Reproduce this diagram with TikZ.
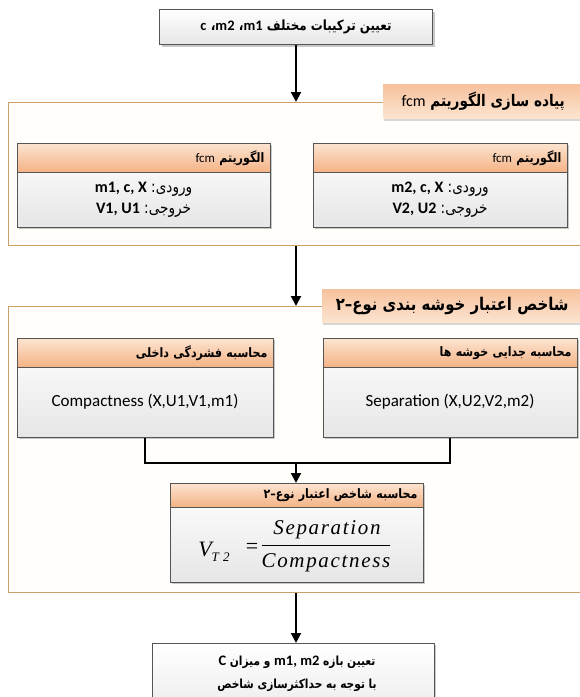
\documentclass[tikz,border=0pt]{standalone}
\usepackage{fontspec}
\usetikzlibrary{arrows.meta,shadows}
\TeXXeTstate=1
\newfontfamily\fafont[Script=Arabic,FakeStretch=0.85]{DejaVu Sans}
\newfontfamily\latf{Carlito}
\newfontfamily\tmsi[LetterSpace=8]{Liberation Serif}
\newcommand\lt[1]{\beginL{\latf\bfseries #1}\endL}
\newcommand\ltr[1]{\beginL{\latf\mdseries #1}\endL}
\newcommand\sep{\kern0pt}
\definecolor{bord}{RGB}{85,85,85}
\definecolor{bodybot}{RGB}{230,230,230}
\definecolor{hdrtop}{RGB}{252,228,208}
\definecolor{hdrbot}{RGB}{244,178,132}
\definecolor{contline}{RGB}{205,160,105}
\definecolor{contfill}{RGB}{255,254,251}
\begin{document}
\begin{tikzpicture}[x=1pt,y=-1pt,
  shd/.style={drop shadow={shadow xshift=2pt,shadow yshift=-2pt,opacity=0.3,fill=black!70}},
  plainbox/.style={draw=bord,line width=0.8pt,top color=white,bottom color=bodybot,shd,inner sep=0pt},
  bodybox/.style={plainbox,anchor=north west},
  hdr/.style={draw=bord,line width=0.8pt,top color=hdrtop,bottom color=hdrbot,anchor=north west,
     inner xsep=6pt,inner ysep=0pt,align=right,font=\fafont\bfseries\fontsize{13}{15}\selectfont},
  cont/.style={draw=contline,line width=1.3pt,fill=contfill,anchor=north west,inner sep=0pt},
  titlebox/.style={top color=hdrbot!80,bottom color=hdrtop,anchor=north west,inner sep=0pt,
     drop shadow={shadow xshift=1pt,shadow yshift=-3pt,opacity=0.25,fill=black!60}},
  txt/.style={align=center,inner sep=0pt},
  arr/.style={line width=2pt,-{Triangle[length=10pt,width=10pt]}},
  conn/.style={line width=2pt}]
\path[use as bounding box,clip] (0,0) rectangle (580,697);
\fill[white] (0,0) rectangle (580,697);

% top box
\node[plainbox,minimum width=273pt,minimum height=35pt,font=\fafont\bfseries\fontsize{14}{17}\selectfont] (top) at (296,27)
  {\beginR تعیین ترکیبات مختلف {\fontsize{14.5}{17}\selectfont\lt{m1}\sep،\sep\ \lt{m2}\sep،\sep\ \lt{c}}\endR};

% container 1
\node[cont,minimum width=600pt,minimum height=143pt] (c1) at (8,102) {};
\node[titlebox,minimum width=200pt,minimum height=34pt,font=\fafont\bfseries\fontsize{16}{19}\selectfont] (t1) at (383,84)
  {\beginR پیاده سازی الگوریتم {\fontsize{16}{18}\selectfont\ltr{fcm}}\endR};

\node[bodybox,minimum width=253pt,minimum height=84pt] (L1) at (17,143) {};
\node[hdr,text width=241pt,minimum height=29pt] (L1h) at (17,143)
  {\beginR الگوریتم {\fontsize{13}{15}\selectfont\ltr{fcm}}\endR};
\node[txt,font=\fafont\fontsize{16}{21}\selectfont] (L1t) at (143.5,200)
  {\beginR ورودی\sep:\sep\ \lt{m1, c, X}\endR\\ \beginR خروجی\sep:\sep\ \lt{V1, U1}\endR};

\node[bodybox,minimum width=254pt,minimum height=84pt] (R1) at (313,143) {};
\node[hdr,text width=242pt,minimum height=29pt] (R1h) at (313,143)
  {\beginR الگوریتم {\fontsize{13}{15}\selectfont\ltr{fcm}}\endR};
\node[txt,font=\fafont\fontsize{16}{21}\selectfont] (R1t) at (440,200)
  {\beginR ورودی\sep:\sep\ \lt{m2, c, X}\endR\\ \beginR خروجی\sep:\sep\ \lt{V2, U2}\endR};

% container 2
\node[cont,minimum width=600pt,minimum height=286pt] (c2) at (8,306) {};
\node[titlebox,minimum width=260pt,minimum height=33pt,font=\fafont\bfseries\fontsize{17.5}{20}\selectfont] (t2) at (322,289)
  {\beginR شاخص اعتبار خوشه بندی نوع\sep–\sep۲\endR};

\node[bodybox,minimum width=256pt,minimum height=99pt] (L2) at (17,338) {};
\node[hdr,text width=244pt,minimum height=29pt] (L2h) at (17,338)
  {\beginR محاسبه فشردگی داخلی\endR};
\node[txt,font=\latf\fontsize{17}{20}\selectfont] (L2t) at (145,402) {Compactness (X,U1,V1,m1)};

\node[bodybox,minimum width=254pt,minimum height=99pt] (R2) at (323,338) {};
\node[hdr,text width=242pt,minimum height=29pt] (R2h) at (323,338)
  {\beginR محاسبه جدایی خوشه ها\endR};
\node[txt,font=\latf\fontsize{17}{20}\selectfont] (R2t) at (450,402) {Separation (X,U2,V2,m2)};

% formula box
\node[bodybox,minimum width=253pt,minimum height=99pt] (F) at (170,483) {};
\node[hdr,text width=241pt,minimum height=24pt] (Fh) at (170,483)
  {\beginR محاسبه شاخص اعتبار نوع\sep–\sep۲\endR};
\node[txt,font=\tmsi\itshape\fontsize{22}{24}\selectfont] (fv) at (214,552)
  {V\raisebox{-5pt}{\fontsize{13}{13}\selectfont T 2}};
\node[txt,font=\tmsi\fontsize{22}{24}\selectfont] (feq) at (252,548) {=};
\node[txt,font=\tmsi\itshape\fontsize{21}{24}\selectfont] (fnum) at (327,530) {Separation};
\node[txt,font=\tmsi\itshape\fontsize{21}{24}\selectfont] (fden) at (326,563) {Compactness};
\draw[line width=0.8pt] (262,545) -- (390,545);

% bottom box
\node[bodybox,minimum width=282pt,minimum height=90pt] (bot) at (152,643) {};
\node[txt,font=\fafont\bfseries\fontsize{12.5}{23}\selectfont] (bott) at (297,674)
  {\beginR تعیین بازه {\fontsize{14.5}{17}\selectfont\lt{m1, m2}} و میزان {\fontsize{14.5}{17}\selectfont\lt{C}}\endR\\ \beginR با توجه به حداکثرسازی شاخص\endR};

% connectors
\draw[arr] (top.south) -- (top.south |- c1.north);
\draw[arr] (c1.south -| top.south) -- (c2.north -| top.south);
\coordinate (j) at (296,463);
\draw[conn] (L2.south) |- (j) -| (R2.south);
\draw[arr] (j) -- (Fh.north -| j);
\draw[arr] (c2.south -| top.south) -- (bot.north -| top.south);
\end{tikzpicture}
\end{document}
